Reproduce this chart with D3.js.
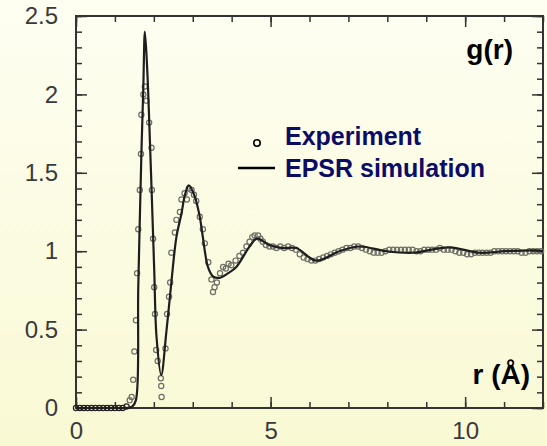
<!DOCTYPE html>
<html>
<head>
<meta charset="utf-8">
<script src="https://cdn.jsdelivr.net/npm/d3@7"></script>
<style>
  body { margin: 0; background: #fcfce4; }
  svg { display: block; }
</style>
</head>
<body>
<div id="chart"></div>
<script>
// simulation curve (EPSR)
var simR = [0, 0.5, 1.0, 1.3, 1.45, 1.54, 1.60, 1.68, 1.73, 1.77, 1.83, 1.88, 1.94, 2.01, 2.07, 2.19,
            2.32, 2.45, 2.58, 2.71, 2.80, 2.90, 3.05, 3.18, 3.26, 3.39, 3.52, 3.69, 3.91, 4.12, 4.46,
            4.65, 4.97, 5.32, 5.66, 6.17, 6.77, 7.28, 7.97, 8.65, 9.59, 10.36, 11.04, 11.81, 12.0];
var simG = [0, 0, 0, 0, 0.01, 0.05, 0.77, 1.62, 2.05, 2.40, 2.16, 1.84, 1.41, 0.88, 0.45, 0.21,
            0.48, 0.80, 1.09, 1.24, 1.36, 1.42, 1.35, 1.22, 1.09, 0.90, 0.84, 0.83, 0.86, 0.90, 1.03,
            1.08, 1.04, 1.02, 1.02, 0.94, 1.00, 1.03, 1.00, 0.99, 1.025, 0.99, 1.00, 1.005, 1.00];

// experimental points
var expR = [0, 0.1, 0.2, 0.3, 0.4, 0.5, 0.6, 0.7, 0.8, 0.9, 1.0, 1.1, 1.2, 1.3,
            1.38, 1.43, 1.47, 1.50, 1.54, 1.57, 1.60, 1.64, 1.67, 1.68, 1.73, 1.77, 1.81, 1.88, 1.94,
            1.95, 1.98, 2.01, 2.03, 2.06, 2.10, 2.18, 2.19, 2.20, 2.30, 2.34, 2.39, 2.42, 2.45, 2.54,
            2.58, 2.67, 2.71, 2.79, 2.85, 2.90, 2.97, 3.03, 3.09, 3.18, 3.26, 3.31, 3.40, 3.48, 3.52,
            3.56, 3.62, 3.70, 3.78, 3.85, 3.92, 3.99, 4.10, 4.20, 4.29, 4.38, 4.46, 4.53, 4.59, 4.68,
            4.74, 4.80, 4.88, 4.97, 5.06, 5.15, 5.25, 5.35, 5.45, 5.55, 5.65, 5.75, 5.85, 5.95, 6.05,
            6.15, 6.25, 6.35, 6.45, 6.55, 6.65, 6.75, 6.85, 6.95, 7.05, 7.15, 7.25, 7.35, 7.45, 7.55,
            7.65, 7.75, 7.85, 7.95, 8.05, 8.15, 8.25, 8.35, 8.45, 8.55, 8.65, 8.75, 8.85, 8.95, 9.05,
            9.15, 9.25, 9.35, 9.45, 9.55, 9.65, 9.75, 9.85, 9.95, 10.05, 10.15, 10.25, 10.35, 10.45,
            10.55, 10.65, 10.75, 10.85, 10.95, 11.05, 11.15, 11.25, 11.35, 11.45, 11.55, 11.65, 11.75,
            11.85, 11.95];
var expG = [0, 0, 0, 0, 0, 0, 0, 0, 0, 0, 0, 0, 0, 0.01,
            0.05, 0.07, 0.18, 0.36, 0.56, 0.86, 1.14, 1.39, 1.62, 1.87, 2.00, 2.05, 1.96, 1.82, 1.66,
            1.39, 1.08, 0.77, 0.60, 0.37, 0.30, 0.19, 0.14, 0.07, 0.38, 0.60, 0.71, 0.80, 0.99, 1.12,
            1.20, 1.25, 1.33, 1.37, 1.33, 1.40, 1.39, 1.36, 1.32, 1.22, 1.14, 1.05, 0.93, 0.82, 0.74,
            0.77, 0.80, 0.86, 0.90, 0.89, 0.92, 0.91, 0.94, 0.97, 0.99, 1.03, 1.06, 1.09, 1.10, 1.10,
            1.08, 1.06, 1.04, 1.03, 1.03, 1.02, 1.03, 1.02, 1.03, 1.02, 1.01, 0.98, 0.96, 0.95, 0.94,
            0.94, 0.95, 0.96, 0.97, 0.98, 0.99, 1.00, 1.01, 1.02, 1.02, 1.03, 1.03, 1.02, 1.01, 1.00,
            0.99, 0.99, 0.99, 1.00, 1.01, 1.01, 1.01, 1.01, 1.01, 1.01, 1.01, 1.00, 1.00, 1.01, 1.01,
            1.01, 1.01, 1.02, 1.01, 1.01, 1.01, 1.00, 0.99, 0.99, 0.98, 0.98, 0.99, 0.99, 0.99,
            0.99, 0.99, 1.00, 1.00, 1.00, 1.00, 1.00, 1.00, 1.00, 0.99, 0.99, 1.00, 1.00,
            1.00, 1.00];

var xMajor = [0, 5, 10];
var yMajor = [0, 0.5, 1, 1.5, 2, 2.5];
var xLabels = ["0", "5", "10"];
var yLabels = ["0", "0.5", "1", "1.5", "2", "2.5"];
var legendNames = ["Experiment", "EPSR simulation"];

var w = 547, h = 446;
var padL = 76, padR = 543, padT = 16, padB = 408;

var svg = d3.select("#chart").append("svg")
    .attr("width", w)
    .attr("height", h);

var grad = svg.append("defs").append("linearGradient")
    .attr("id", "bg").attr("x1", 0).attr("y1", 0).attr("x2", 0).attr("y2", 1);
grad.append("stop").attr("offset", "0%").attr("stop-color", "#fefef2");
grad.append("stop").attr("offset", "100%").attr("stop-color", "#f9f9d4");
svg.append("rect").attr("width", w).attr("height", h).attr("fill", "url(#bg)");

var x = d3.scaleLinear().domain([0, 12]).range([padL, padR]);
var y = d3.scaleLinear().domain([0, 2.5]).range([padB, padT]);

var xMinor = d3.range(0, 13, 1);
var yMinor = d3.range(0, 26, 1).map(function (d) { return d / 10; });

function styleAxis(g) {
    g.select(".domain").remove();
    g.selectAll("line").attr("stroke", "#333").attr("stroke-width", 1.5);
    g.selectAll("text").attr("fill", "#3a3a3a")
        .attr("font-family", "Liberation Sans, Arial, sans-serif")
        .attr("font-size", "24px");
}

// minor ticks on all four sides
svg.append("g").attr("transform", "translate(0," + padB + ")")
    .call(d3.axisBottom(x).tickValues(xMinor).tickSize(-6).tickFormat(""))
    .call(styleAxis);
svg.append("g").attr("transform", "translate(0," + padT + ")")
    .call(d3.axisTop(x).tickValues(xMinor).tickSize(-6).tickFormat(""))
    .call(styleAxis);
svg.append("g").attr("transform", "translate(" + padL + ",0)")
    .call(d3.axisLeft(y).tickValues(yMinor).tickSize(-6).tickFormat(""))
    .call(styleAxis);
svg.append("g").attr("transform", "translate(" + padR + ",0)")
    .call(d3.axisRight(y).tickValues(yMinor).tickSize(-6).tickFormat(""))
    .call(styleAxis);

// major ticks + labels
svg.append("g").attr("transform", "translate(0," + padB + ")")
    .call(d3.axisBottom(x).tickValues(xMajor).tickSize(-11).tickPadding(14)
        .tickFormat(function (d, i) { return xLabels[i]; }))
    .call(styleAxis);
svg.append("g").attr("transform", "translate(0," + padT + ")")
    .call(d3.axisTop(x).tickValues(xMajor).tickSize(-11).tickFormat(""))
    .call(styleAxis);
svg.append("g").attr("transform", "translate(" + padL + ",0)")
    .call(d3.axisLeft(y).tickValues(yMajor).tickSize(-11).tickPadding(18)
        .tickFormat(function (d, i) { return yLabels[i]; }))
    .call(styleAxis);
svg.append("g").attr("transform", "translate(" + padR + ",0)")
    .call(d3.axisRight(y).tickValues(yMajor).tickSize(-11).tickFormat(""))
    .call(styleAxis);

// frame
svg.append("rect")
    .attr("x", padL).attr("y", padT)
    .attr("width", padR - padL).attr("height", padB - padT)
    .attr("fill", "none").attr("stroke", "#333").attr("stroke-width", 2);

// experiment circles
var expData = expR.map(function (r, i) { return {r: r, g: expG[i]}; });
svg.append("g").selectAll("circle")
    .data(expData)
    .enter()
    .append("circle")
    .attr("cx", function (d) { return x(d.r); })
    .attr("cy", function (d) { return y(d.g); })
    .attr("r", 2.6)
    .attr("fill", "none")
    .attr("stroke", function (d) { return d.r < 1.35 ? "#222" : "#6e6e66"; })
    .attr("stroke-width", 1.2);

// simulation line
var simData = simR.map(function (r, i) { return {r: r, g: simG[i]}; });
var line = d3.line()
    .x(function (d) { return x(d.r); })
    .y(function (d) { return y(d.g); })
    .curve(d3.curveCatmullRom.alpha(0.5));
svg.append("path")
    .datum(simData)
    .attr("d", line)
    .attr("fill", "none")
    .attr("stroke", "#1e1e1e")
    .attr("stroke-width", 2.2);

// legend
svg.append("circle")
    .attr("cx", 257).attr("cy", 143).attr("r", 3.2)
    .attr("fill", "none").attr("stroke", "#000").attr("stroke-width", 1.6);
svg.append("line")
    .attr("x1", 238).attr("x2", 275).attr("y1", 168).attr("y2", 168)
    .attr("stroke", "#000").attr("stroke-width", 2.5);
svg.selectAll(".legend")
    .data(legendNames)
    .enter()
    .append("text")
    .attr("class", "legend")
    .attr("x", 285)
    .attr("y", function (d, i) { return 145 + i * 32; })
    .attr("font-family", "Liberation Sans, Arial, sans-serif")
    .attr("font-size", "25px")
    .attr("font-weight", "bold")
    .attr("fill", "#0c0c66")
    .text(function (d) { return d; });

// axis names inside the frame
svg.append("text")
    .attr("x", 513).attr("y", 59)
    .attr("text-anchor", "end")
    .attr("font-family", "Liberation Sans, Arial, sans-serif")
    .attr("font-size", "28px").attr("font-weight", "bold")
    .attr("fill", "#000")
    .text("g(r)");
svg.append("text")
    .attr("x", 530).attr("y", 384)
    .attr("text-anchor", "end")
    .attr("font-family", "Liberation Sans, Arial, sans-serif")
    .attr("font-size", "28px").attr("font-weight", "bold")
    .attr("fill", "#000")
    .text("r (Å)");
</script>
</body>
</html>
